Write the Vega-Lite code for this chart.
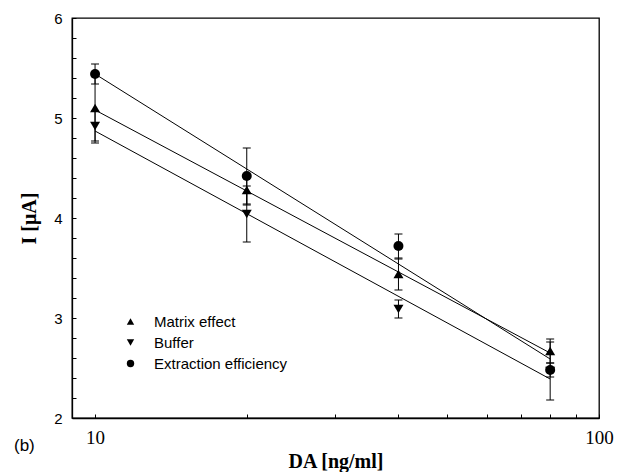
{
  "$schema": "https://vega.github.io/schema/vega-lite/v6.json",
  "width": 527,
  "height": 400,
  "autosize": {"type": "none"},
  "padding": {"left": 72, "top": 18, "right": 19, "bottom": 54},
  "background": "white",
  "title": {
    "text": "(b)",
    "orient": "bottom",
    "anchor": "start",
    "frame": "group",
    "font": "Liberation Sans",
    "fontSize": 17,
    "fontWeight": "normal",
    "color": "black",
    "dx": -58,
    "offset": -33
  },
  "datasets": {
    "points": [
      {"series": "Matrix effect", "conc": 10, "current": 5.10, "lo": 4.75, "hi": 5.45},
      {"series": "Matrix effect", "conc": 20, "current": 4.28, "lo": 4.13, "hi": 4.43},
      {"series": "Matrix effect", "conc": 40, "current": 3.44, "lo": 3.28, "hi": 3.60},
      {"series": "Matrix effect", "conc": 80, "current": 2.67, "lo": 2.55, "hi": 2.79},
      {"series": "Buffer", "conc": 10, "current": 4.92, "lo": 4.77, "hi": 5.07},
      {"series": "Buffer", "conc": 20, "current": 4.04, "lo": 3.76, "hi": 4.32},
      {"series": "Buffer", "conc": 40, "current": 3.09, "lo": 3.00, "hi": 3.18},
      {"series": "Buffer", "conc": 80, "current": 2.47, "lo": 2.18, "hi": 2.76},
      {"series": "Extraction efficiency", "conc": 10, "current": 5.44, "lo": 5.34, "hi": 5.54},
      {"series": "Extraction efficiency", "conc": 20, "current": 4.42, "lo": 4.14, "hi": 4.70},
      {"series": "Extraction efficiency", "conc": 40, "current": 3.72, "lo": 3.59, "hi": 3.84},
      {"series": "Extraction efficiency", "conc": 80, "current": 2.48, "lo": 2.41, "hi": 2.55}
    ],
    "fits": [
      {"series": "Matrix effect", "conc": 10, "current": 5.08},
      {"series": "Matrix effect", "conc": 80, "current": 2.65},
      {"series": "Buffer", "conc": 10, "current": 4.87},
      {"series": "Buffer", "conc": 80, "current": 2.39},
      {"series": "Extraction efficiency", "conc": 10, "current": 5.44},
      {"series": "Extraction efficiency", "conc": 80, "current": 2.59}
    ]
  },
  "encoding": {
    "x": {
      "field": "conc", "type": "quantitative", "title": "DA [ng/ml]",
      "scale": {"type": "log", "domain": [9, 100], "nice": false},
      "axis": {
        "values": [10, 20, 30, 40, 50, 60, 70, 80, 90, 100],
        "format": "d",
        "labelExpr": "datum.value == 10 || datum.value == 100 ? datum.label : ''",
        "tickSize": -4,
        "labelPadding": 14,
        "labelFont": "Liberation Serif",
        "labelFontSize": 19,
        "labelFlush": false,
        "labelOverlap": false,
        "titlePadding": 4,
        "grid": false
      }
    }
  },
  "layer": [
    {
      "data": {"name": "fits"},
      "mark": {"type": "line", "color": "black", "strokeWidth": 1},
      "encoding": {
        "y": {
          "field": "current", "type": "quantitative", "title": "I [μA]",
          "scale": {"domain": [2, 6], "nice": false, "zero": false},
          "axis": {
            "values": [2, 2.2, 2.4, 2.6, 2.8, 3, 3.2, 3.4, 3.6, 3.8, 4, 4.2, 4.4, 4.6, 4.8, 5, 5.2, 5.4, 5.6, 5.8, 6],
            "labelExpr": "abs(datum.value - round(datum.value)) < 0.01 ? format(datum.value, 'd') : ''",
            "tickSize": -4,
            "labelPadding": 14,
            "labelFont": "Liberation Sans",
            "labelFontSize": 15,
            "labelFlush": false,
            "labelOverlap": false,
            "titlePadding": 14,
            "grid": false
          }
        },
        "detail": {"field": "series", "type": "nominal"}
      }
    },
    {
      "data": {"name": "points"},
      "mark": {
        "type": "errorbar",
        "color": "black",
        "opacity": 1,
        "ticks": {"size": 8, "color": "black", "thickness": 1, "opacity": 1},
        "rule": {"color": "black", "strokeWidth": 1, "opacity": 1}
      },
      "encoding": {
        "y": {
          "field": "lo", "type": "quantitative", "title": "I [μA]",
          "axis": {
            "values": [2, 2.2, 2.4, 2.6, 2.8, 3, 3.2, 3.4, 3.6, 3.8, 4, 4.2, 4.4, 4.6, 4.8, 5, 5.2, 5.4, 5.6, 5.8, 6],
            "labelExpr": "abs(datum.value - round(datum.value)) < 0.01 ? format(datum.value, 'd') : ''",
            "tickSize": -4,
            "labelPadding": 14,
            "labelFont": "Liberation Sans",
            "labelFontSize": 15,
            "labelFlush": false,
            "labelOverlap": false,
            "titlePadding": 14,
            "grid": false
          }
        },
        "y2": {"field": "hi"}
      }
    },
    {
      "data": {"name": "points"},
      "mark": {"type": "point", "filled": true, "opacity": 1, "color": "black", "size": 100, "strokeWidth": 0},
      "encoding": {
        "y": {
          "field": "current", "type": "quantitative", "title": "I [μA]",
          "axis": {
            "values": [2, 2.2, 2.4, 2.6, 2.8, 3, 3.2, 3.4, 3.6, 3.8, 4, 4.2, 4.4, 4.6, 4.8, 5, 5.2, 5.4, 5.6, 5.8, 6],
            "labelExpr": "abs(datum.value - round(datum.value)) < 0.01 ? format(datum.value, 'd') : ''",
            "tickSize": -4,
            "labelPadding": 14,
            "labelFont": "Liberation Sans",
            "labelFontSize": 15,
            "labelFlush": false,
            "labelOverlap": false,
            "titlePadding": 14,
            "grid": false
          }
        },
        "shape": {
          "field": "series", "type": "nominal",
          "scale": {
            "domain": ["Matrix effect", "Buffer", "Extraction efficiency"],
            "range": ["triangle-up", "triangle-down", "circle"]
          },
          "legend": {
            "title": null,
            "orient": "none",
            "legendX": 51,
            "legendY": 296,
            "labelFont": "Liberation Sans",
            "labelFontSize": 15,
            "labelColor": "black",
            "labelOffset": 16,
            "symbolSize": 55,
            "symbolFillColor": "black",
            "symbolStrokeColor": "black",
            "symbolStrokeWidth": 0,
            "rowPadding": 5,
            "padding": 0
          }
        }
      }
    }
  ],
  "config": {
    "view": {"stroke": "black", "strokeWidth": 1.3},
    "axis": {
      "domainColor": "black",
      "domainWidth": 1.3,
      "tickColor": "black",
      "tickWidth": 1,
      "labelColor": "black",
      "titleColor": "black",
      "titleFont": "Liberation Serif",
      "titleFontSize": 20,
      "titleFontWeight": "bold",
      "labelOverlap": false
    }
  }
}
